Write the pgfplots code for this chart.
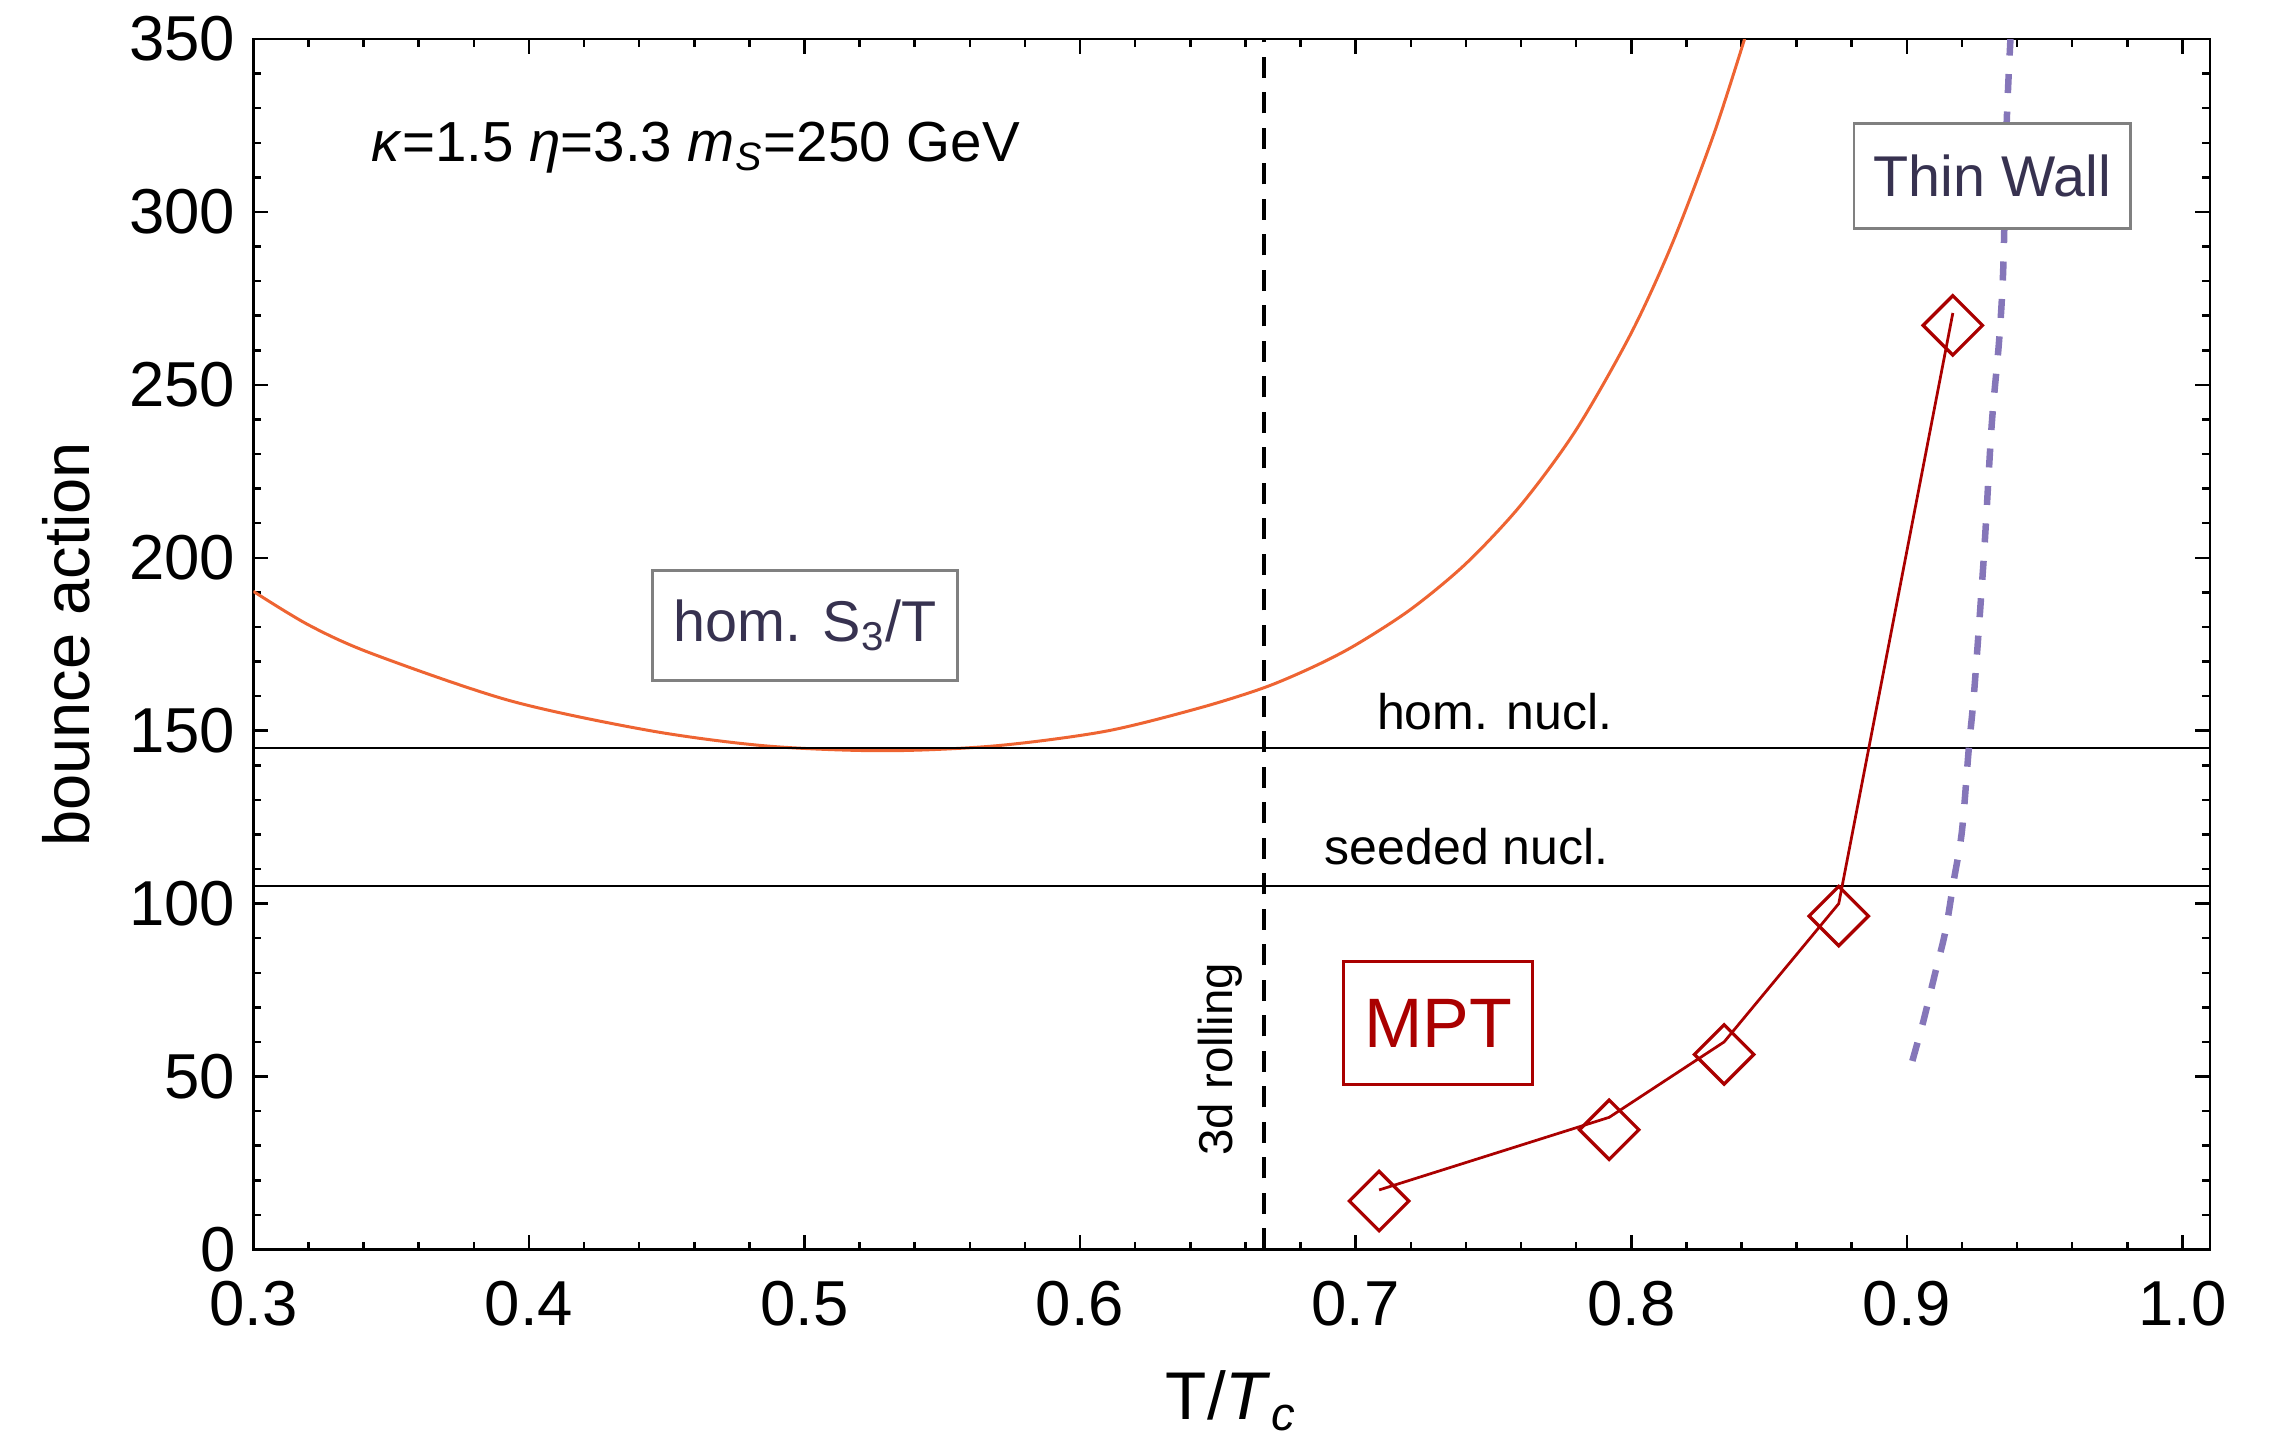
\documentclass[border=0pt]{standalone}
\usepackage{fontspec}
\setmainfont{Liberation Sans}
\usepackage{pgfplots}
\pgfplotsset{compat=1.18}

\definecolor{s3orange}{RGB}{238,100,50}
\definecolor{mptred}{RGB}{170,0,0}
\definecolor{twpurple}{RGB}{133,118,185}
\definecolor{boxtext}{RGB}{55,50,80}
\definecolor{boxgray}{RGB}{128,128,128}

\begin{document}
\begin{tikzpicture}
\begin{axis}[
    scale only axis,
    width=391.3pt, height=242.06pt,
    xmin=0.3, xmax=1.01, ymin=0, ymax=350,
    xtick={0.3,0.4,0.5,0.6,0.7,0.8,0.9,1.0},
    ytick={0,50,100,150,200,250,300,350},
    minor x tick num=4, minor y tick num=4,
    tick align=inside,
    xtick pos=both, ytick pos=both,
    xticklabel pos=lower, yticklabel pos=left,
    major tick length=2.9pt, minor tick length=1.5pt,
    axis line style={line width=0.55pt},
    tick style={black, line width=0.5pt},
    tick label style={font=\fontsize{12.7}{15}\selectfont},
    /pgf/number format/assume math mode=true,
    x tick label style={/pgf/number format/fixed, /pgf/number format/fixed zerofill,
        /pgf/number format/precision=1, inner sep=0pt, anchor=north, yshift=-6.2pt},
    y tick label style={inner sep=0pt, anchor=east, xshift=-3.4pt},
    xlabel={T/\textit{T}\textsubscript{\textit{c}}},
    ylabel={bounce action},
    every axis x label/.style={at={(axis description cs:0.5,0)}, anchor=north,
        yshift=-24pt, inner sep=0pt, font=\fontsize{13.5}{16}\selectfont},
    every axis y label/.style={at={(axis description cs:-0.0837,0.5)}, rotate=90,
        anchor=base, inner sep=0pt, font=\fontsize{13}{16}\selectfont},
]

% homogeneous S3/T
\addplot[s3orange, line width=0.6pt, smooth] coordinates {
 (0.300,190.3) (0.320,180.6) (0.343,172.3) (0.393,158.7) (0.444,150.0)
 (0.486,145.6) (0.5285,144.2) (0.569,145.6) (0.609,149.8) (0.643,156.5)
 (0.667,162.5) (0.685,168.6) (0.700,174.8) (0.720,185.1) (0.740,198.3)
 (0.760,215.3) (0.780,237.0) (0.800,265.0) (0.815,291.1) (0.830,322.6)
 (0.8415,351.0)};

% nucleation thresholds
\addplot[black, line width=0.4pt] coordinates {(0.3,145) (1.01,145)};
\addplot[black, line width=0.4pt] coordinates {(0.3,105) (1.01,105)};

% 3d rolling
\addplot[black, line width=0.85pt, dash pattern=on 4.2pt off 2.9pt] coordinates {(0.6667,0) (0.6667,350)};

% thin wall
\addplot[twpurple, line width=1.3pt, dash pattern=on 3.8pt off 3.7pt, smooth] coordinates {
 (0.902,54.5) (0.906,66.0) (0.910,79.0) (0.914,92.0) (0.917,106.5)
 (0.920,121.0) (0.9225,145.0) (0.9245,162.0) (0.928,201.0) (0.9308,238.5)
 (0.9335,263.0) (0.935,284.0) (0.9362,325.0) (0.9376,350)};

% MPT
\addplot[mptred, line width=0.55pt] coordinates {
 (0.7085,17.2) (0.792,38.2) (0.8337,60.0) (0.8753,100.0) (0.9167,270.8)};
\addplot[mptred, only marks, mark=square, mark size=4.2pt,
    mark options={rotate=45, line width=0.65pt, fill=none}] coordinates {
 (0.7085,14.0) (0.792,34.6) (0.8337,56.4) (0.8753,96.4) (0.9167,267.2)};

\node[anchor=base west, inner sep=0pt, font=\fontsize{11.3}{13}\selectfont]
    at (axis cs:0.3425,314.5) {\textit{κ}=1.5 \textit{η}=3.3 \textit{m}\textsubscript{\textit{S}}=250 GeV};
\node[inner sep=0pt, font=\fontsize{10}{12}\selectfont] at (axis cs:0.7505,155.5) {hom. nucl.};
\node[inner sep=0pt, font=\fontsize{10}{12}\selectfont] at (axis cs:0.7403,116.4) {seeded nucl.};
\node[inner sep=0pt, rotate=90, font=\fontsize{9.5}{11}\selectfont] at (axis cs:0.6507,55) {3d rolling};

\node[draw=mptred, line width=0.65pt, fill=white, text=mptred, inner sep=0pt,
    minimum width=37.8pt, minimum height=24.6pt, font=\fontsize{14}{16}\selectfont]
    at (axis cs:0.730,65.4) {MPT};
\node[draw=boxgray, line width=0.55pt, fill=white, text=boxtext, inner sep=0pt,
    minimum width=61pt, minimum height=22pt, font=\fontsize{11.5}{14}\selectfont]
    at (axis cs:0.5003,180.5) {hom. S\textsubscript{3}/T};
\node[draw=boxgray, line width=0.55pt, fill=white, text=boxtext, inner sep=0pt,
    minimum width=55.3pt, minimum height=21pt, font=\fontsize{11.5}{14}\selectfont]
    at (axis cs:0.931,310.5) {Thin Wall};
\end{axis}
\pgfresetboundingbox
\path[use as bounding box] (-50.66pt,-37.74pt) rectangle (406.5pt,249.86pt);
\end{tikzpicture}
\end{document}
